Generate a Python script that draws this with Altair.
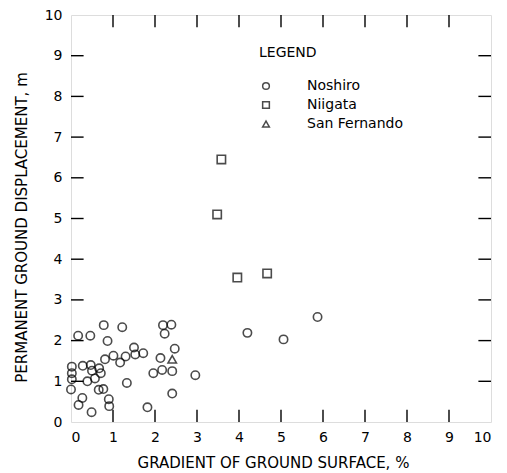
import altair as alt
import pandas as pd

# Noshiro (circles)
noshiro_x = [0.78, 1.22, 2.19, 2.39, 2.23, 0.17, 0.46, 0.87, 1.50, 2.47,
             1.01, 1.17, 1.30, 1.53, 1.72, 0.81, 2.13, 0.02, 0.28, 0.47,
             0.50, 0.67, 0.71, 0.57, 0.39, 0.02, 0.02, 0.00, 0.66, 0.77,
             1.33, 1.96, 2.17, 2.41, 2.96, 2.41, 0.27, 0.90, 0.18, 0.91,
             1.82, 0.49, 4.20, 5.87, 5.06]
noshiro_y = [2.38, 2.33, 2.38, 2.39, 2.17, 2.12, 2.12, 1.99, 1.83, 1.80,
             1.63, 1.46, 1.61, 1.66, 1.69, 1.54, 1.57, 1.36, 1.38, 1.40,
             1.26, 1.32, 1.20, 1.07, 1.00, 1.20, 1.05, 0.80, 0.79, 0.81,
             0.96, 1.20, 1.28, 1.25, 1.15, 0.70, 0.59, 0.56, 0.42, 0.39,
             0.36, 0.24, 2.19, 2.58, 2.03]
# Niigata (squares)
niigata_x = [3.58, 3.48, 3.96, 4.67]
niigata_y = [6.45, 5.10, 3.55, 3.65]
# San Fernando (triangles)
sanf_x = [2.41]
sanf_y = [1.54]

sites = ["Noshiro", "Niigata", "San Fernando"]
shapes = ["circle", "square", "triangle-up"]

axis_labels = [0, 1, 2, 3, 4, 5, 6, 7, 8, 9, 10]
tick_vals = [1, 2, 3, 4, 5, 6, 7, 8, 9]

rows = []
for xs, ys, s in [(noshiro_x, noshiro_y, sites[0]),
                  (niigata_x, niigata_y, sites[1]),
                  (sanf_x, sanf_y, sites[2])]:
    for a, b in zip(xs, ys):
        rows.append({"x": a, "y": b, "site": s})
df = pd.DataFrame(rows)

FONT = "DejaVu Sans"

xscale = alt.Scale(domain=[0, 10], nice=False)
yscale = alt.Scale(domain=[0, 10], nice=False)

xaxis = alt.Axis(values=axis_labels, ticks=False, tickSize=0, domain=False, grid=False,
                 labelPadding=8, labelFontSize=14, labelFont=FONT, labelColor="black",
                 title="GRADIENT OF GROUND SURFACE, %", titleFont=FONT, titleFontSize=15,
                 titleFontWeight="normal", titleColor="black",
                 titleX=202, titleY=40, titleBaseline="middle", titleAlign="center")
yaxis = alt.Axis(values=axis_labels, ticks=False, tickSize=0, domain=False, grid=False,
                 labelPadding=9, labelFontSize=14, labelFont=FONT, labelColor="black",
                 title="PERMANENT GROUND DISPLACEMENT, m", titleFont=FONT, titleFontSize=15,
                 titleFontWeight="normal", titleColor="black", titleAngle=270,
                 titleX=-50, titleY=212, titleBaseline="middle", titleAlign="center")

points = alt.Chart(df).mark_point(filled=False, color="black", size=70, strokeWidth=1.6).encode(
    x=alt.X("x:Q", scale=xscale, axis=xaxis),
    y=alt.Y("y:Q", scale=yscale, axis=yaxis),
    shape=alt.Shape("site:N", scale=alt.Scale(domain=sites, range=shapes),
                    legend=alt.Legend(title="LEGEND", orient="none", legendX=188, legendY=31,
                                      titleFont=FONT, titleFontSize=14, titleFontWeight="normal",
                                      titleColor="black", titlePadding=19,
                                      labelFont=FONT, labelFontSize=14, labelColor="black",
                                      labelOffset=34, symbolSize=45, symbolStrokeWidth=1.5,
                                      symbolStrokeColor="black", rowPadding=5)),
)

ticks_df = pd.DataFrame({"t": tick_vals})
L = 0.3
bottom = alt.Chart(ticks_df).mark_rule(color="black", strokeWidth=1.4).encode(
    x=alt.X("t:Q", scale=xscale), y=alt.Y("a:Q", scale=yscale), y2="b:Q"
).transform_calculate(a="0", b=str(L))
top = alt.Chart(ticks_df).mark_rule(color="black", strokeWidth=1.4).encode(
    x=alt.X("t:Q", scale=xscale), y=alt.Y("a:Q", scale=yscale), y2="b:Q"
).transform_calculate(a="10", b=str(10 - L))
left = alt.Chart(ticks_df).mark_rule(color="black", strokeWidth=1.4).encode(
    y=alt.Y("t:Q", scale=yscale), x=alt.X("a:Q", scale=xscale), x2="b:Q"
).transform_calculate(a="0", b=str(L))
right = alt.Chart(ticks_df).mark_rule(color="black", strokeWidth=1.4).encode(
    y=alt.Y("t:Q", scale=yscale), x=alt.X("a:Q", scale=xscale), x2="b:Q"
).transform_calculate(a="10", b=str(10 - L))

chart = alt.layer(bottom, top, left, right, points).properties(
    width=420, height=407,
    autosize=alt.AutoSizeParams(type="none"),
    padding={"left": 63, "top": 7, "right": 5, "bottom": 50},
).configure_view(stroke="black", strokeWidth=1.8).configure(background="white")

chart.save("out.html", embed_options={"renderer": "svg", "actions": False})
